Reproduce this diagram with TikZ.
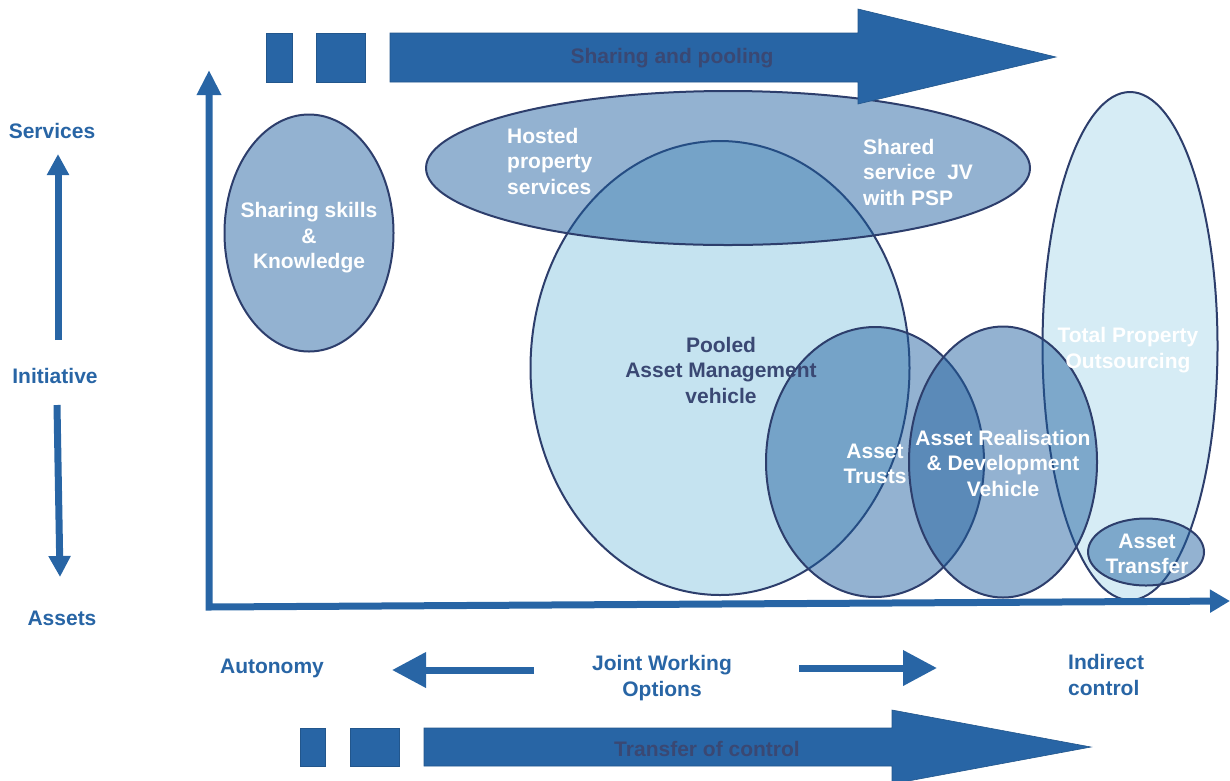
\documentclass[tikz,border=0pt]{standalone}
\usepackage{fontspec}
\setmainfont{Liberation Sans}
\usetikzlibrary{shapes.geometric,arrows.meta,positioning}
\definecolor{arrowblue}{HTML}{2865A5}
\definecolor{rimblue}{HTML}{2D3E6C}
\definecolor{blobfill}{HTML}{1E5E9E}
\definecolor{paleblue}{HTML}{C5E3F0}
\definecolor{mistblue}{HTML}{D6ECF5}
\definecolor{inkblue}{HTML}{3A4873}
\tikzstyle{every node}+=[font=\bfseries\fontsize{21}{25.5}\selectfont,align=center,inner sep=2pt]
\tikzstyle{blob}=[ellipse,draw=rimblue,line width=2pt,fill=blobfill,fill opacity=0.48]
\tikzstyle{solidblob}=[ellipse,draw=rimblue,line width=2pt]
\tikzstyle{inner}=[white]
\tikzstyle{axislabel}=[text=arrowblue]
\tikzstyle{axis}=[arrowblue,line width=7pt,line join=miter]
\tikzstyle{lift}=[arrowblue,line width=7pt,-{Triangle[width=21pt,length=21pt]}]
\tikzstyle{sideways}=[arrowblue,line width=7pt,-{Triangle[width=34pt,length=34pt]}]
\tikzstyle{band}=[fill=arrowblue,draw=arrowblue!85!black,line width=0.6pt]
% the little blocks in front of a band arrow
\newcommand{\stubs}[3]{
	\foreach \a/\b in {#3}{
		\draw[band] (\a,#1) rectangle (\b,#2);
	}
}

\begin{document}
\begin{tikzpicture}[x=1pt,y=-1pt]
\useasboundingbox (0,0) rectangle (1230,780);

% options, back to front
\node[blob,minimum width=169,minimum height=237] (skills) at (309,233) {};
\node[solidblob,fill=paleblue,minimum width=379,minimum height=454] (pooled) at (720,368) {};
\node[blob,minimum width=604,minimum height=154] (hosted) at (728,168) {};
\node[solidblob,fill=mistblue,minimum width=175,minimum height=508] (tpo) at (1130,346) {};
\node[blob,minimum width=218,minimum height=270] (trusts) at (875,462) {};
\node[blob,minimum width=188,minimum height=271] (realise) at (1003,462) {};
\node[blob,minimum width=116,minimum height=67] (transfer) at (1146,552) {};

\node[inner] (skillsT) at (309,238) {Sharing skills\\\&\\Knowledge};
\node[inner,align=left,anchor=west] (hostedT) at (505,161) {Hosted\\property\\services};
\node[inner,align=left,anchor=west] (sharedT) at (861,172) {Shared\\service~~JV\\with PSP};
\node[text=inkblue] (pooledT) at (721,370) {Pooled\\Asset Management\\vehicle};
\node[inner] (trustsT) at (875,464) {Asset\\Trusts};
\node[inner] (realiseT) at (1003,463) {Asset Realisation\\\& Development\\Vehicle};
\node[inner] (tpoT) at (1128,350) {Total Property\\Outsourcing};
\node[inner] (transferT) at (1147,554) {Asset\\Transfer};

% axes
\coordinate (origin) at (209,607);
\coordinate (ytip) at (209,70);
\coordinate (xtip) at (1230,601);
\draw[axis,{Triangle[width=23pt,length=25pt]}-{Triangle[width=22pt,length=20pt]}] (ytip) -- (origin) -- (xtip);

% initiative scale
\node[axislabel] (services) at (52,131) {Services};
\node[axislabel] (initiative) at (55,376) {Initiative};
\node[axislabel] (assets) at (62,618) {Assets};
\draw[lift] ([xshift=3pt,yshift=36pt]initiative.center) -- ([xshift=6pt,yshift=-23pt]services.center);
\draw[lift] ([xshift=2pt,yshift=-29pt]initiative.center) -- ([xshift=-2pt,yshift=41pt]assets.center);

% joint working scale
\node[axislabel] (autonomy) at (272,668) {Autonomy};
\node[axislabel] (joint) at (662,678) {Joint Working\\Options};
\node[axislabel,align=left,anchor=west] (indirect) at (1066,675) {Indirect\\control};
\draw[sideways] ([xshift=-128pt,yshift=8pt]joint.center) -- ([xshift=120pt,yshift=-2pt]autonomy.center);
\draw[sideways] ([xshift=137pt,yshift=10pt]joint.center) -- ([xshift=-129pt,yshift=7pt]indirect.west);

% band arrows
\stubs{33}{82}{266/292,316/365}
\draw[band] (390,33) -- (858,33) -- (858,9) -- (1056,57) -- (858,104) -- (858,82) -- (390,82) -- cycle;
\node[text=inkblue] (pooling) at (672,58) {Sharing and pooling};
\stubs{728}{766}{300/325,350/399}
\draw[band] (424,728) -- (892,728) -- (892,710) -- (1091,747) -- (892,784) -- (892,766) -- (424,766) -- cycle;
\node[text=inkblue] (control) at (707,749) {Transfer of control};
\end{tikzpicture}
\end{document}
